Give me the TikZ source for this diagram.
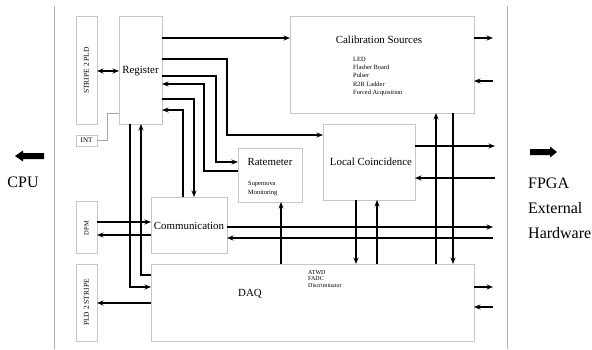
\documentclass[tikz,border=0pt]{standalone}
\usepackage{fontspec}
\setmainfont{Liberation Serif}
\usetikzlibrary{arrows.meta,calc}
\begin{document}
\begin{tikzpicture}[x=1pt,y=-1pt,
  box/.style={draw=black!22, line width=0.6pt, fill=white, inner sep=0pt, outer sep=0pt},
  lab/.style={font=\fontsize{10.9}{12}\selectfont, inner sep=0pt},
  small/.style={font=\fontsize{6.4}{8.2}\selectfont, align=left, inner sep=0pt},
  tiny/.style={font=\fontsize{6}{6.8}\selectfont, align=left, inner sep=0pt},
  side/.style={font=\fontsize{7.5}{9}\selectfont, rotate=90, inner sep=0pt},
  big/.style={font=\fontsize{16}{25}\selectfont, align=left, inner sep=0pt},
  arr/.style={line width=1.3pt, -{Stealth[length=6.5pt,width=5pt]}},
  dbl/.style={line width=1.3pt, {Stealth[length=6.5pt,width=5pt]}-{Stealth[length=6.5pt,width=5pt]}},
  link/.style={draw=black!35, line width=0.6pt},
  sep/.style={draw=black!30, line width=0.7pt}
]
\useasboundingbox (0,0) rectangle (592,349);
\fill[white] (0,0) rectangle (592,349);

% separators
\coordinate (l1) at (54,6); \coordinate (l2) at (54,349);
\coordinate (r1) at (507,6); \coordinate (r2) at (507,349);
\draw[sep] (l1) -- (l2);
\draw[sep] (r1) -- (r2);

% boxes
\node[box, minimum width=21pt, minimum height=108pt] (stripe) at (86.5,70) {};
\node[box, minimum width=43pt, minimum height=108pt] (reg) at (140.5,70) {};
\node[box, minimum width=21pt, minimum height=11pt] (int) at (86.5,140.5) {};
\node[box, minimum width=184pt, minimum height=97pt] (cal) at (382,64.5) {};
\node[box, minimum width=64pt, minimum height=54pt] (rate) at (270,175) {};
\node[box, minimum width=92pt, minimum height=76pt] (lc) at (369,162) {};
\node[box, minimum width=21pt, minimum height=52pt] (dpm) at (86.5,227) {};
\node[box, minimum width=76pt, minimum height=56pt] (comm) at (189,225) {};
\node[box, minimum width=21pt, minimum height=77pt] (pld) at (86.5,302.5) {};
\node[box, minimum width=323pt, minimum height=77pt] (daq) at (312.5,302.5) {};

% labels
\node[side] (tstripe) at (86.5,70.5) {STRIPE 2 PLD};
\node[side] (tpld) at (86.5,302.5) {PLD 2 STRIPE};
\node[side, font=\fontsize{6.5}{8}\selectfont] (tdpm) at (86.5,228) {DPM};
\node[inner sep=0pt, font=\fontsize{7}{8}\selectfont] (tint) at (86.5,140.5) {INT};
\node[lab] (treg) at (140.5,71) {Register};
\node[lab] (tcal) at (379,40) {Calibration Sources};
\node[small, anchor=west] (tcallist) at (353,76.5) {LED\\Flasher Board\\Pulser\\R2R Ladder\\Forced Acquisition};
\node[lab] (trate) at (270,162) {Ratemeter};
\node[small, anchor=west] (tsn) at (248,188.5) {Supernova\\Monitoring};
\node[lab] (tlc) at (371,162) {Local Coincidence};
\node[lab] (tcomm) at (189,226) {Communication};
\node[lab] (tdaq) at (250,294) {DAQ};
\node[tiny, anchor=west] (tatwd) at (308,279) {ATWD\\FADC\\Discriminator};

% big arrows and side texts
\fill (44,153) -- (23,153) -- (23,150.5) -- (15,156) -- (23,161.5) -- (23,159) -- (44,159) -- cycle;
\fill (530,149) -- (550,149) -- (550,146.5) -- (557,152) -- (550,157.5) -- (550,155) -- (530,155) -- cycle;
\node[big] (cpu) at (23,182) {CPU};
\node[big, anchor=west] (fpga) at (528,208) {FPGA\\External\\Hardware};

% register connectors
\draw[arr] (reg.east |- 0,38) -- (cal.west |- 0,38);
\draw[arr] (reg.east |- 0,59) -| (227,135) -- (lc.west |- 0,135);
\draw[arr] (reg.east |- 0,76) -| (216,162) -- (rate.west |- 0,162);
\draw[arr] (rate.west |- 0,171) -| (204,84) -- (reg.east |- 0,84);
\draw[arr] (reg.east |- 0,99) -| (comm.north -| 194,0);
\draw[arr] (comm.north -| 183,0) |- (reg.east |- 0,110);
\draw[arr] (reg.south -| 130,0) |- (daq.west |- 0,287);
\draw[arr] (daq.west |- 0,275) -| (reg.south -| 141,0);
\draw[dbl] (stripe.east |- 0,71) -- (reg.west |- 0,71);
\draw[link] (int.east) -| (107,113) -- (reg.west |- 0,113);

% left side
\draw[arr] (dpm.east |- 0,222) -- (comm.west |- 0,222);
\draw[arr] (comm.west |- 0,235) -- (dpm.east |- 0,235);
\draw[arr] (daq.west |- 0,303) -- (pld.east |- 0,303);

% free ends on the right
\coordinate (e1) at (493,227);
\coordinate (e2) at (493,238);
\coordinate (e3) at (495,146);
\coordinate (e4) at (495,178);
\coordinate (e5) at (493,38);
\coordinate (e6) at (493,81);
\coordinate (e7) at (493,287);
\coordinate (e8) at (493,307);

\draw[arr] (comm.east |- e1) -- (e1);
\draw[arr] (e2) -- (comm.east |- e2);
\draw[arr] (lc.east |- e3) -- (e3);
\draw[arr] (e4) -- (lc.east |- e4);
\draw[arr] (cal.east |- e5) -- (e5);
\draw[arr] (e6) -- (cal.east |- e6);
\draw[arr] (daq.east |- e7) -- (e7);
\draw[arr] (e8) -- (daq.east |- e8);

% verticals
\draw[arr] (daq.north -| 281,0) -- (rate.south -| 281,0);
\draw[arr] (lc.south -| 356,0) -- (daq.north -| 356,0);
\draw[arr] (daq.north -| 377,0) -- (lc.south -| 377,0);
\draw[arr] (daq.north -| 436,0) -- (cal.south -| 436,0);
\draw[arr] (cal.south -| 453,0) -- (daq.north -| 453,0);
\end{tikzpicture}
\end{document}
